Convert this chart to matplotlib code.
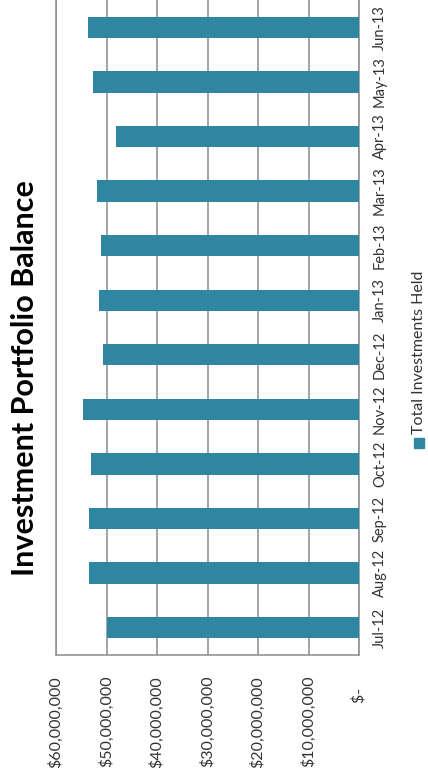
import matplotlib
matplotlib.use("Agg")
import matplotlib.pyplot as plt
from matplotlib.patches import Rectangle

# data
months = ["Jul-12", "Aug-12", "Sep-12", "Oct-12", "Nov-12", "Dec-12",
          "Jan-13", "Feb-13", "Mar-13", "Apr-13", "May-13", "Jun-13"]
balance = [50.0e6, 53.4e6, 53.5e6, 53.0e6, 54.7e6, 50.7e6,
           51.4e6, 51.0e6, 51.8e6, 48.1e6, 52.7e6, 53.6e6]
value_ticks = [0, 10e6, 20e6, 30e6, 40e6, 50e6, 60e6]
value_labels = ["$-   ", "$10,000,000", "$20,000,000", "$30,000,000",
                "$40,000,000", "$50,000,000", "$60,000,000"]

plt.rcParams["font.family"] = ["Lato", "DejaVu Sans"]
bar_color = "#2E86A0"
grid_color = "#8C8C8C"
text_color = "#333333"

fig = plt.figure(figsize=(4.28, 7.8), dpi=100)
ax = fig.add_axes([56 / 428, 1 - 655 / 780, (359 - 56) / 428, 655 / 780])

# the whole chart is a column chart turned on its side
ax.barh(range(len(months)), balance, height=0.39, color=bar_color, zorder=3)
ax.set_xlim(60e6, 0)
ax.set_ylim(-0.5, len(months) - 0.5)

ax.set_xticks(value_ticks)
ax.set_xticklabels(value_labels, rotation=90, fontsize=11.5, color=text_color)
ax.tick_params(axis="x", length=0, pad=15)

ax.yaxis.tick_right()
ax.set_yticks(range(len(months)))
ax.set_yticklabels(months, rotation=90, va="center", fontsize=10.5, color=text_color)
ax.tick_params(axis="y", length=0, pad=10)

ax.grid(axis="x", color=grid_color, linewidth=1.1, zorder=0)
for side in ["left", "right", "bottom"]:
    ax.spines[side].set_color(grid_color)
    ax.spines[side].set_linewidth(1.1)
ax.spines["top"].set_visible(False)

# title, rotated
fig.text(25 / 428, 1 - 378 / 780, "Investment Portfolio Balance", rotation=90,
         fontsize=22, fontweight="bold", ha="center", va="center", color="black")

# legend, rotated
fig.patches.append(Rectangle((414 / 428, 1 - 448 / 780), 10 / 428, 10 / 780,
                             transform=fig.transFigure, color=bar_color))
fig.text(419 / 428, 1 - 434 / 780, "Total Investments Held", rotation=90,
         fontsize=11.5, ha="center", va="bottom", color=text_color)

fig.savefig("out.png", dpi=100)
